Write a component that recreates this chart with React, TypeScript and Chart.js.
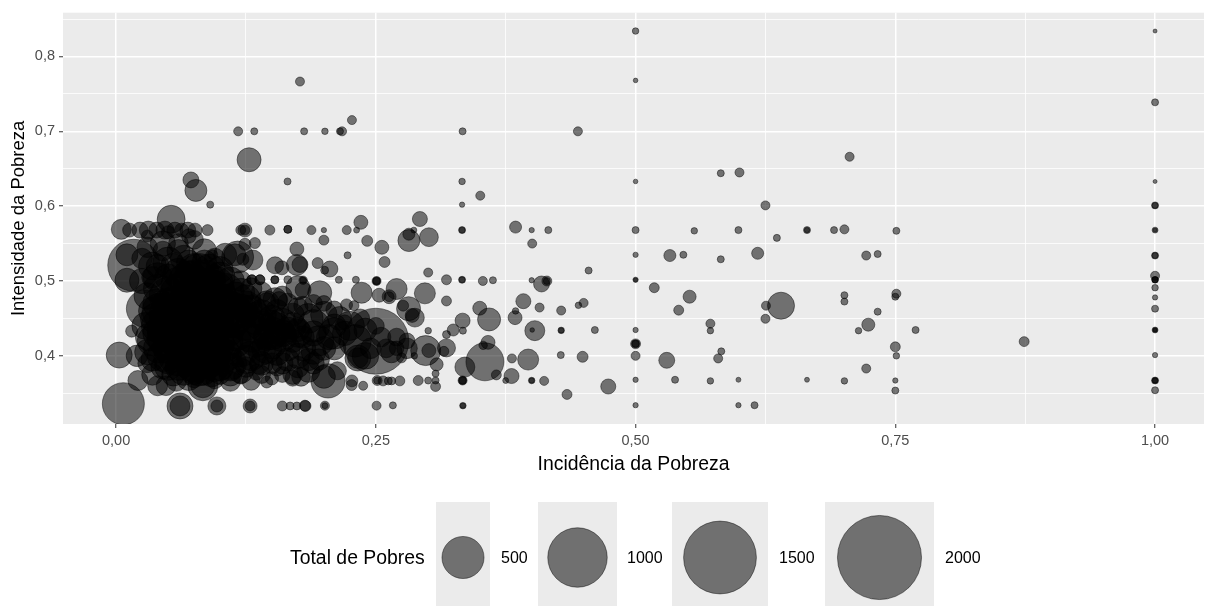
import React, { useEffect, useRef } from "react";
import { Chart, registerables } from "chart.js";

Chart.register(...registerables);

const incidencia = [
  .706,.582,.600,.625,.5565,.599,.665,.665,.691,.701,
  .751,.636,.533,.546,.582,.6175,.722,.733,.518,.552,
  .5415,.701,.701,.751,.750,.6255,.640,.625,.733,.572,
  .572,.7146,.724,.7695,.874,.750,.751,.530,.5795,.5825,
  .722,.538,.572,.599,.665,.701,.750,.750,.599,.6145,
  1,1,1,1,1,1,1,1,1,1,
  1,1,1,1,1,1,1,1,1,1,
  1,1,1,1,
  .5,.5,.5,.5,.5,.5,.5,.5,.5,.5,
  .5,.5,.5,.5,.4445,.3335,.333,
  .3505,.333,.333,.333,.3845,.400,.416,.4005,.4548,.333,
  .333,.353,.3627,.400,.4095,.4146,.4146,.318,.392,.4076,
  .4284,.445,.450,.350,.359,.384,.3845,.3335,.3245,.3338,
  .403,.4005,.4284,.4284,.4608,.428,.449,.3966,.381,.355,
  .358,.3533,.3357,.366,.3806,.375,.400,.400,.412,.3335,
  .3335,.3335,.4737,.434,.3338,.3338,.2664,.2507,.201,.201,
  .1817,.188,.200,.222,.2315,.2356,.200,.2417,.2558,.2228,
  .2584,.194,.2058,.2007,.177,.2924,.2818,.3011,.2818,.2866,
  .3004,.318,.2144,.2308,.2507,.2507,.2507,.18,.18,.27,
  .2363,.196,.18,.2532,.2628,.2628,.2972,.2815,.2876,.2763,
  .285,.2218,.229,.3004,.298,.301,.318,.3155,.3085,.3075,
  .3075,.3004,.2908,.3075,.287,.318,.2731,.2652,.262,.2513,
  .2513,.257,.2748,.2378,.2267,
  .1175,.133,.177,.181,.201,.2155,.2175,.227,.165,.0906,
  .072,.0768,.128,.007,.0615,.0615,.097,.097,.129,.129,
  .16,.1675,.174,.1823,
  .078,.085,.07,.095,.06,.08,.10,.065,.09,.075,
  .11,.055,.085,.07,.10,.05,.115,.06,.09,.075,
  .075,.08,.07,.085,.095,.06,.105,.05,.115,.075,
  .09,.06,.10,.125,.042,.04,.035,.045,.05,.065,
  .08,.095,.11,.12,.13,.135,.14,.15,.155,.16,
  .145,.13,.165,.17,.155,.14,.12,
  .072,.088,.10,.068,.083,.058,.113,.125,.12,.05,
  .078,.095,.062,.045,.105,.135,.15,.145,.092,.07,
  .055,.11,
  .005,.0104,.017,.0104,.013,.023,.031,.039,.047,.0566,
  .063,.069,.076,.053,.088,.03,.045,.06,.075,.035,
  .05,.065,.025,.04,.085,.095,.105,.093,.028,.015,
  .003,.02,.03,.021,.035,.048,.058,.04,.0835,.0835,
  .075,.095,.11,.13,.138,.12,.135,.15,.16,.17,
  .185,.178,.2,.204,.213,.227,.19,.165,.175,.155,
  .145,.19,.21,.195,.175,.185,.20,.215,.225,.23,
  .2327,.2327,.24,.24,.25,.255,.27,.28,.265,.28,
  .2,.21,.18,.185,.17,.165,.18,.19,.2,.21,
  .22,.155,.145,.14,.13,.12,.16,
  .117,.1317,.1143,.122,.124,.124,.12,.124,.1336,.1307,
  .1307,.1384,.1384,.1528,.1528,.1653,.148,.1653,.1653,.153,
  .1596,.174,.174,.175,.153,.157,.145,.175,
  .03,.035,.028,.032,.03,.04,.04,.038,.04,.04,.05,.05,.05,.035,.045,
  .04,.055,.07,.085,.1,.11,.12,.05,.035,.045,.06,.03,.05,.07,.025,
  .125,.13,.14,.15,.16,.17,.175,.16,.15,.165,.14,.125,.11,.18,
  .06,.075,.09,.1,.07,.05,.085,.1,.125,
  .19,.205,.22,.235,.21,.19,.175,.195,.16,.17,.245,.26,.25,.27,.15,.14,
];

const intensidade = [
  .666,.644,.645,.601,.567,.568,.568,.568,.568,.569,
  .567,.5576,.534,.535,.529,.537,.534,.536,.491,.479,
  .461,.481,.4725,.483,.479,.467,.467,.4495,.459,.443,
  .4336,.4336,.4416,.4345,.419,.412,.400,.394,.3965,.406,
  .383,.368,.3665,.368,.368,.3665,.367,.3536,.334,.334,
  .834,.7387,.633,.601,.601,.568,.568,.534,.534,.507,
  .5016,.5016,.5016,.491,.478,.463,.4345,.4345,.4345,.401,
  .367,.367,.367,.354,
  .834,.768,.633,.568,.535,.5016,.5016,.4345,.416,.416,
  .416,.4,.368,.334,.7,.7,.633,
  .614,.602,.568,.568,.572,.568,.568,.550,.514,.5016,
  .5016,.5,.501,.501,.496,.5,.5,.5016,.473,.4645,
  .4605,.4675,.4707,.4636,.4486,.451,.460,.447,.4345,.4336,
  .4336,.4345,.434,.434,.4345,.401,.3987,.395,.3965,.392,
  .418,.414,.385,.3745,.373,.367,.367,.367,.3665,.367,
  .367,.367,.359,.3484,.3334,.3334,.3338,.3334,.3334,.3334,
  .3334,.568,.568,.568,.568,.5784,.5546,.5536,.545,.5343,
  .5254,.524,.516,.5144,.522,.5828,.554,.5585,.5625,.568,
  .5113,.4733,.5016,.5016,.5,.5,.5,.501,.501,.4893,
  .4843,.4843,.488,.481,.479,.479,.4835,.463,.451,.467,
  .454,.468,.467,.4336,.407,.407,.4106,.406,.3886,.3763,
  .367,.367,.367,.359,.4,.4284,.3665,.3665,.3665,.367,
  .367,.3665,.3973,.36,.361,
  .7,.7,.7665,.7,.7,.7,.7,.715,.633,.602,
  .635,.621,.662,.336,.333,.333,.333,.333,.333,.333,
  .333,.333,.333,.333,
  .47,.45,.44,.46,.46,.43,.44,.48,.48,.455,
  .455,.44,.415,.415,.42,.425,.435,.40,.40,.39,
  .50,.51,.50,.50,.495,.495,.485,.48,.475,.515,
  .515,.51,.505,.465,.46,.44,.42,.40,.385,.38,
  .38,.385,.39,.41,.43,.45,.44,.43,.44,.425,
  .41,.40,.435,.42,.405,.39,.38,
  .425,.435,.47,.465,.485,.425,.42,.445,.46,.455,
  .40,.415,.415,.435,.40,.42,.445,.425,.375,.37,
  .375,.375,
  .569,.535,.521,.501,.568,.568,.568,.568,.568,.568,
  .568,.568,.568,.5825,.568,.545,.55,.54,.555,.52,
  .525,.53,.50,.505,.54,.53,.535,.535,.463,.433,
  .401,.40,.39,.367,.375,.36,.366,.36,.36,.36,
  .37,.368,.366,.366,.389,.372,.378,.37,.375,.375,
  .38,.372,.372,.3665,.38,.3665,.39,.395,.40,.385,
  .365,.44,.43,.42,.43,.45,.455,.45,.44,.42,
  .397,.397,.40,.435,.4195,.425,.425,.41,.405,.42,
  .41,.41,.41,.395,.455,.47,.467,.47,.47,.462,
  .445,.46,.47,.485,.49,.50,.48,
  .532,.528,.535,.529,.568,.568,.568,.549,.5507,.5016,
  .5016,.5016,.5016,.5016,.5016,.5016,.568,.569,.569,.521,
  .5176,.5427,.5215,.491,.475,.4745,.4725,.4645,
  .48,.46,.44,.425,.405,.49,.47,.45,.43,.41,.47,.44,.41,.395,.385,
  .52,.52,.525,.525,.515,.50,.485,.505,.505,.54,.55,.56,.565,.56,.53,
  .475,.46,.455,.45,.445,.44,.435,.43,.415,.41,.405,.395,.385,.425,
  .385,.38,.39,.385,.395,.395,.375,.375,.385,
  .405,.425,.43,.45,.44,.43,.385,.395,.39,.37,.41,.41,.44,.41,.39,.375,
];

const totalPobres = [
  23,14,23,23,12,14,14,8,14,23,
  14,14,41,14,14,41,23,14,28,48,
  28,14,14,23,14,23,206,23,14,23,
  12,12,48,14,28,28,12,72,23,14,
  23,14,12,7,7,12,8,14,8,14,
  4.5,14,4.5,14,10,10,5,14,10,23,
  12,12,10,12,8,14,10,6,5,8,
  14,10,8,14,
  12,6,6,14,8,8,5,8,28,18,
  14,23,8,8,23,14,12,
  23,8,14,10,41,8,14,23,14,14,
  10,23,14,8,72,28,14,28,64,23,
  23,12,23,55,150,55,12,64,41,14,
  113,6,12,8,14,14,34,125,23,408,
  55,20,113,28,64,10,12,8,23,23,
  18,14,64,28,12,8,14,23,23,10,
  34,23,8,23,10,55,28,34,55,14,
  34,34,72,18,72,64,136,100,41,10,
  23,28,14,14,23,18,14,20,12,125,
  125,163,72,55,55,28,125,163,100,34,
  55,41,28,12,255,55,92,28,48,14,
  14,14,28,28,12,18,28,18,18,28,
  14,28,28,23,34,
  23,14,23,14,12,14,23,23,14,14,
  72,137,163,500,191,113,92,41,55,28,
  28,18,18,34,
  900,1000,850,800,750,950,700,650,800,1100,
  600,600,700,650,600,500,500,450,500,400,
  500,450,450,500,400,350,400,400,350,300,
  280,260,260,300,350,300,260,280,200,240,
  260,240,300,380,400,300,260,300,200,240,
  260,250,180,150,200,160,180,
  500,520,450,500,480,400,350,380,320,400,
  420,420,360,280,300,300,160,200,170,170,
  150,150,
  113,137,765,163,55,72,92,72,92,72,
  55,72,55,220,34,120,180,150,100,220,
  260,200,180,240,170,120,150,28,400,41,
  191,130,100,113,130,110,113,113,255,163,
  100,90,113,92,113,60,70,50,70,110,
  150,100,150,330,92,40,130,150,180,90,
  40,300,280,260,220,250,200,160,240,300,
  190,120,200,150,1232,110,90,120,130,70,
  160,150,180,140,150,120,100,90,70,80,
  60,150,180,120,130,120,110,
  290,113,137,41,55,28,28,41,34,28,
  28,28,28,18,18,18,28,18,18,82,
  55,55,125,163,163,82,92,113,
  200,220,200,220,180,230,250,260,250,230,260,280,260,150,160,
  150,180,170,170,200,220,220,200,130,110,110,40,50,60,120,
  250,280,250,200,220,200,160,200,230,180,200,220,220,140,
  200,220,240,210,300,230,130,110,120,
  170,180,170,100,160,180,130,130,130,70,120,100,80,60,120,90,
];

const ticksX = [0, 0.125, 0.25, 0.375, 0.5, 0.625, 0.75, 0.875, 1];
const ticksY = [0.35, 0.4, 0.45, 0.5, 0.55, 0.6, 0.65, 0.7, 0.75, 0.8, 0.85];
const legendaValores = [500, 1000, 1500, 2000];
const legendaCaixas = [[436, 54], [538, 79], [672, 96], [825, 109]];
const legendaRotulosX = [501, 627, 779, 945];

const raio = (total: number) => 0.94 * Math.sqrt(total);
const isMajorX = (v: number) => Math.abs(v * 4 - Math.round(v * 4)) < 1e-6;
const isMajorY = (v: number) => Math.abs(v * 10 - Math.round(v * 10)) < 1e-6;
const fonte = "'Liberation Sans', Arial, sans-serif";
const PAINEL = "#EBEBEB";
const PREENCHIMENTO = "rgba(0,0,0,0.52)";
const CONTORNO = "rgba(0,0,0,0.5)";

const fundoELegenda = {
  id: "fundoELegenda",
  beforeDraw(chart: any) {
    const { ctx, chartArea: a } = chart;
    ctx.save();
    ctx.fillStyle = PAINEL;
    ctx.fillRect(a.left, a.top, a.right - a.left, a.bottom - a.top);
    ctx.restore();
  },
  afterDraw(chart: any) {
    const { ctx } = chart;
    ctx.save();
    ctx.textBaseline = "middle";
    ctx.textAlign = "left";
    ctx.fillStyle = "#000";
    ctx.font = `19.4px ${fonte}`;
    ctx.fillText("Total de Pobres", 290, 559);
    legendaValores.forEach((v, i) => {
      const [x, w] = legendaCaixas[i];
      ctx.fillStyle = PAINEL;
      ctx.fillRect(x, 502, w, 110);
      ctx.beginPath();
      ctx.arc(x + w / 2, 557.5, raio(v), 0, Math.PI * 2);
      ctx.fillStyle = PREENCHIMENTO;
      ctx.fill();
      ctx.strokeStyle = CONTORNO;
      ctx.lineWidth = 0.9;
      ctx.stroke();
      ctx.fillStyle = "#000";
      ctx.font = `16px ${fonte}`;
      ctx.fillText(String(v), legendaRotulosX[i], 559);
    });
    ctx.restore();
  },
};

export default function App() {
  const ref = useRef<HTMLCanvasElement>(null);
  useEffect(() => {
    document.body.style.margin = "0";
    const pontos = incidencia.map((x, i) => ({ x, y: intensidade[i], r: raio(totalPobres[i]) }));
    const chart = new Chart(ref.current!, {
      type: "bubble",
      data: {
        datasets: [
          {
            data: pontos,
            backgroundColor: PREENCHIMENTO,
            borderColor: CONTORNO,
            borderWidth: 0.9,
          },
        ],
      },
      plugins: [fundoELegenda],
      options: {
        animation: false,
        responsive: false,
        events: [],
        layout: { autoPadding: false, padding: { top: 9, right: 1, bottom: 130, left: 0 } },
        plugins: { legend: { display: false }, tooltip: { enabled: false } },
        scales: {
          x: {
            type: "linear",
            min: -0.0511,
            max: 1.0471,
            afterBuildTicks: (s: any) => {
              s.ticks = ticksX.map((value) => ({ value }));
            },
            afterFit: (s: any) => {
              s.height = 52;
            },
            border: { display: false },
            grid: {
              color: "#fff",
              lineWidth: (c: any) => (isMajorX(c.tick.value) ? 1.5 : 0.8),
              tickColor: (c: any) => (isMajorX(c.tick.value) ? "#333" : "rgba(0,0,0,0)"),
              tickWidth: 1,
              tickLength: 4,
            },
            ticks: {
              autoSkip: false,
              maxRotation: 0,
              color: "#4d4d4d",
              padding: 4,
              font: { family: fonte, size: 14.5 },
              callback: (v: any) => (isMajorX(+v) ? (+v).toFixed(2).replace(".", ",") : ""),
            },
            title: {
              display: true,
              text: "Incidência da Pobreza",
              color: "#000",
              font: { family: fonte, size: 19.4 },
              padding: { top: 0, bottom: 0 },
            },
          },
          y: {
            type: "linear",
            min: 0.3089,
            max: 0.8585,
            afterBuildTicks: (s: any) => {
              s.ticks = ticksY.map((value) => ({ value }));
            },
            afterFit: (s: any) => {
              s.width = 63;
            },
            border: { display: false },
            grid: {
              color: "#fff",
              lineWidth: (c: any) => (isMajorY(c.tick.value) ? 1.5 : 0.8),
              tickColor: (c: any) => (isMajorY(c.tick.value) ? "#333" : "rgba(0,0,0,0)"),
              tickWidth: 1,
              tickLength: 4,
            },
            ticks: {
              autoSkip: false,
              color: "#4d4d4d",
              padding: 4,
              font: { family: fonte, size: 14.5 },
              callback: (v: any) => (isMajorY(+v) ? (+v).toFixed(1).replace(".", ",") : ""),
            },
            title: {
              display: true,
              text: "Intensidade da Pobreza",
              color: "#000",
              font: { family: fonte, size: 18.5 },
              padding: { top: 8, bottom: 0 },
            },
          },
        },
      },
    } as any);
    return () => chart.destroy();
  }, []);
  return (
    <canvas
      ref={ref}
      width={1205}
      height={606}
      style={{ display: "block", position: "fixed", left: 0, top: 0, width: 1205, height: 606 }}
    />
  );
}
